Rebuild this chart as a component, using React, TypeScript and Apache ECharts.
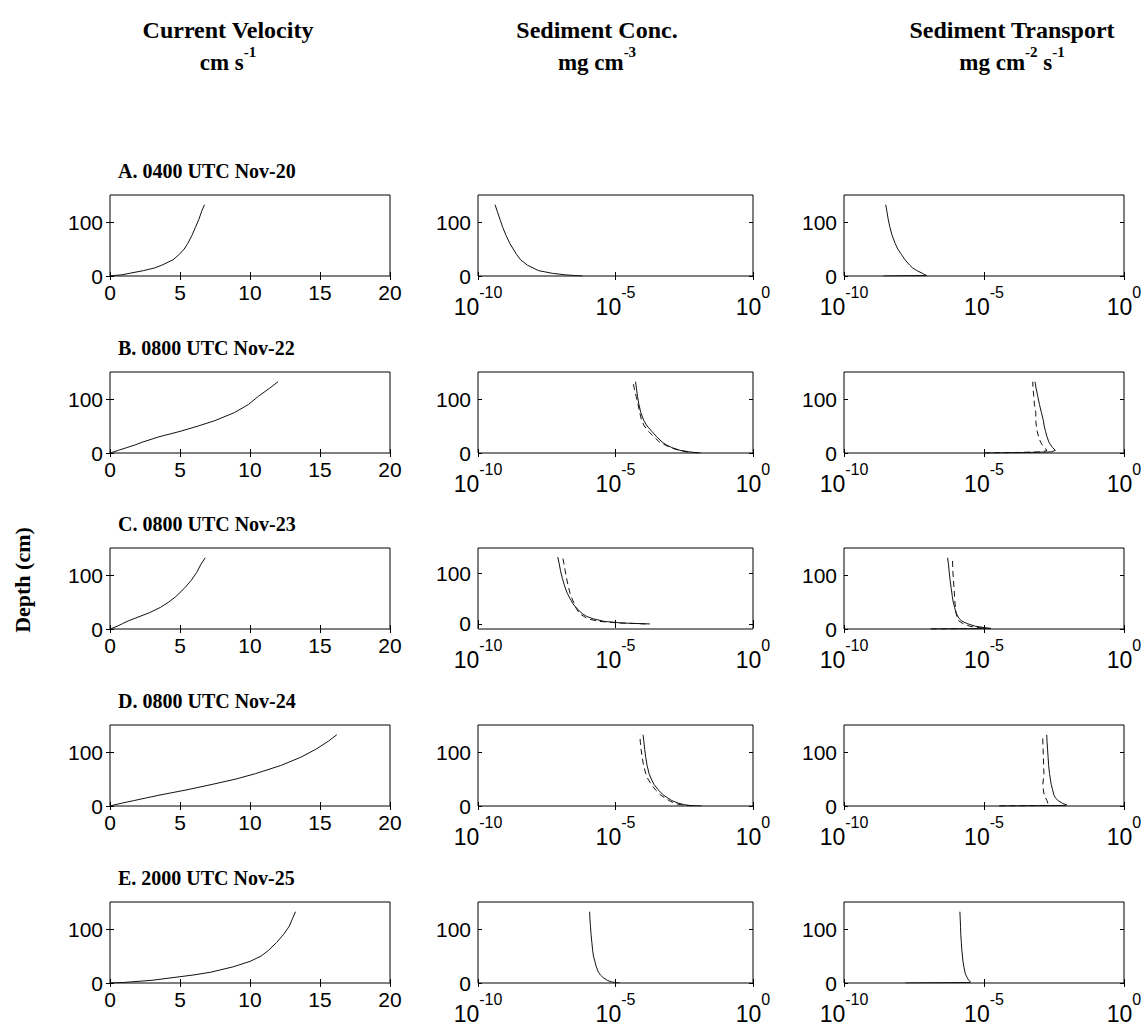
import React, { useEffect, useRef } from 'react';
import * as echarts from 'echarts';

// Depth levels (cm) shared by all profiles
const depth = [0, 1, 2, 5, 10, 15, 20, 30, 40, 50, 60, 75, 90, 105, 120, 132];

// Current velocity (cm s^-1)
const velA = [0, 0.3, 0.8, 1.4, 2.4, 3.2, 3.7, 4.5, 4.95, 5.3, 5.55, 5.85, 6.1, 6.35, 6.55, 6.75];
const velB = [0, 0.12, 0.25, 0.6, 1.2, 1.8, 2.3, 3.5, 5.0, 6.3, 7.5, 8.9, 9.9, 10.6, 11.4, 12.0];
const velC = [0, 0.1, 0.2, 0.5, 0.9, 1.3, 1.8, 2.8, 3.6, 4.2, 4.7, 5.3, 5.8, 6.2, 6.5, 6.8];
const velD = [0, 0.15, 0.3, 0.8, 1.7, 2.6, 3.5, 5.5, 7.3, 9.0, 10.4, 12.2, 13.6, 14.7, 15.6, 16.2];
const velE = [0, 1.0, 1.5, 3.0, 4.5, 6.0, 7.2, 8.8, 10.0, 10.8, 11.3, 11.9, 12.4, 12.8, 13.05, 13.25];

// Sediment concentration (mg cm^-3)
const concA = [6.3e-7, 3.16e-7, 1.58e-7, 5.0e-8, 1.58e-8, 1e-8, 6.3e-9, 3.55e-9, 2.51e-9, 1.91e-9, 1.45e-9, 1.05e-9, 7.94e-10, 6.3e-10, 5.0e-10, 4.17e-10];
const concBSolid = [1.26e-2, 7.08e-3, 5.01e-3, 2.24e-3, 1.12e-3, 7.08e-4, 5.01e-4, 3.16e-4, 2.09e-4, 1.41e-4, 1.07e-4, 8.32e-5, 7.08e-5, 6.31e-5, 5.75e-5, 5.37e-5];
const concBDashed = [1e-2, 6.31e-3, 3.98e-3, 2.0e-3, 1e-3, 6.31e-4, 3.98e-4, 2.51e-4, 1.58e-4, 1.12e-4, 8.91e-5, 7.59e-5, 6.61e-5, 5.62e-5, 4.79e-5, 4.27e-5];
const concCSolid = [1.78e-4, 5.01e-5, 1.58e-5, 3.98e-6, 1.58e-6, 8.91e-7, 6.31e-7, 3.98e-7, 2.82e-7, 2.24e-7, 1.78e-7, 1.41e-7, 1.17e-7, 1e-7, 8.91e-8, 7.94e-8];
const concCDashed = [1.26e-4, 3.98e-5, 1.26e-5, 2.51e-6, 1e-6, 7.08e-7, 5.01e-7, 3.8e-7, 3.16e-7, 2.63e-7, 2.24e-7, 1.91e-7, 1.66e-7, 1.48e-7, 1.32e-7, 1.2e-7];
const concDSolid = [1.35e-2, 5.01e-3, 3.55e-3, 2.0e-3, 1.12e-3, 7.94e-4, 5.62e-4, 3.55e-4, 2.51e-4, 2.0e-4, 1.66e-4, 1.41e-4, 1.26e-4, 1.15e-4, 1.07e-4, 1e-4];
const concDDashed = [6.31e-3, 3.98e-3, 2.51e-3, 1.41e-3, 8.91e-4, 6.31e-4, 4.47e-4, 2.82e-4, 2.0e-4, 1.51e-4, 1.26e-4, 1.05e-4, 9.33e-5, 8.51e-5, 7.94e-5, 7.76e-5];
const concE = [1.41e-5, 1e-5, 7.08e-6, 5.01e-6, 3.55e-6, 2.82e-6, 2.4e-6, 2.0e-6, 1.78e-6, 1.58e-6, 1.48e-6, 1.38e-6, 1.29e-6, 1.23e-6, 1.17e-6, 1.15e-6];

// Sediment transport (mg cm^-2 s^-1)
const transA = [2.51e-9, 8.91e-8, 7.94e-8, 6.3e-8, 3.98e-8, 2.82e-8, 2.24e-8, 1.51e-8, 1.12e-8, 8.32e-9, 6.76e-9, 5.25e-9, 4.37e-9, 3.8e-9, 3.39e-9, 3.09e-9];
const transBSolid = [1e-5, 3.16e-4, 2.51e-3, 3.55e-3, 2.82e-3, 2.4e-3, 2.09e-3, 1.78e-3, 1.58e-3, 1.41e-3, 1.32e-3, 1.12e-3, 9.55e-4, 8.32e-4, 7.24e-4, 6.61e-4];
const transBDashed = [1e-5, 1.58e-4, 1.26e-3, 1.78e-3, 1.41e-3, 1.2e-3, 1.05e-3, 8.91e-4, 7.94e-4, 7.41e-4, 7.08e-4, 7.08e-4, 6.31e-4, 6.03e-4, 5.62e-4, 5.5e-4];
const transCSolid = [1.26e-7, 1.78e-5, 1.26e-5, 5.01e-6, 2.51e-6, 1.58e-6, 1.26e-6, 1e-6, 8.91e-7, 7.94e-7, 7.41e-7, 6.76e-7, 6.17e-7, 5.75e-7, 5.37e-7, 5.01e-7];
const transCDashed = [1.26e-7, 1.26e-5, 7.94e-6, 3.16e-6, 1.78e-6, 1.26e-6, 1.12e-6, 1e-6, 9.55e-7, 9.12e-7, 8.91e-7, 8.51e-7, 8.13e-7, 7.76e-7, 7.59e-7, 7.41e-7];
const transDSolid = [3.55e-5, 7.94e-3, 8.91e-3, 6.31e-3, 4.47e-3, 3.55e-3, 3.16e-3, 2.82e-3, 2.51e-3, 2.34e-3, 2.19e-3, 2.04e-3, 1.95e-3, 1.86e-3, 1.78e-3, 1.74e-3];
const transDDashed = [3.55e-5, 1.58e-3, 1.91e-3, 1.91e-3, 1.78e-3, 1.58e-3, 1.41e-3, 1.32e-3, 1.26e-3, 1.32e-3, 1.38e-3, 1.35e-3, 1.32e-3, 1.29e-3, 1.26e-3, 1.26e-3];
const transE = [1.58e-8, 3.16e-6, 3.31e-6, 2.82e-6, 2.51e-6, 2.24e-6, 2.09e-6, 1.91e-6, 1.78e-6, 1.70e-6, 1.62e-6, 1.55e-6, 1.48e-6, 1.45e-6, 1.41e-6, 1.38e-6];

const panelTitles = ['A. 0400 UTC Nov-20', 'B. 0800 UTC Nov-22', 'C. 0800 UTC Nov-23', 'D. 0800 UTC Nov-24', 'E. 2000 UTC Nov-25'];
const velTicks = [0, 5, 10, 15, 20];
const logTicks = [1e-10, 1e-5, 1];
const depthTicks = [0, 100];

type Prof = { v: number[]; dashed?: boolean };
const rows: { vel: Prof[]; conc: Prof[]; trans: Prof[] }[] = [
  { vel: [{ v: velA }], conc: [{ v: concA }], trans: [{ v: transA }] },
  { vel: [{ v: velB }], conc: [{ v: concBSolid }, { v: concBDashed, dashed: true }], trans: [{ v: transBSolid }, { v: transBDashed, dashed: true }] },
  { vel: [{ v: velC }], conc: [{ v: concCSolid }, { v: concCDashed, dashed: true }], trans: [{ v: transCSolid }, { v: transCDashed, dashed: true }] },
  { vel: [{ v: velD }], conc: [{ v: concDSolid }, { v: concDDashed, dashed: true }], trans: [{ v: transDSolid }, { v: transDDashed, dashed: true }] },
  { vel: [{ v: velE }], conc: [{ v: concE }], trans: [{ v: transE }] },
];

const SANS = '"Liberation Sans", Arial, sans-serif';
const SERIF = '"Liberation Serif", "Times New Roman", serif';

const colLeft = [110, 478, 844];
const colWidth = [280, 275, 280];
const rowTop = [195, 372, 548, 725, 902];
const H = 81;

export default function App() {
  const ref = useRef<HTMLDivElement>(null);
  useEffect(() => {
    document.body.style.margin = '0';
    const chart = echarts.init(ref.current!, null, { renderer: 'svg' });
    const grids: any[] = [];
    const xAxes: any[] = [];
    const yAxes: any[] = [];
    const series: any[] = [];

    const tick = { inside: true, length: 4, lineStyle: { color: '#000', width: 1 } };
    const labelBase = { color: '#000', fontFamily: SANS, fontSize: 21 };

    rows.forEach((row, r) => {
      [row.vel, row.conc, row.trans].forEach((profs, c) => {
        const g = r * 3 + c;
        grids.push({
          left: colLeft[c], top: rowTop[r], width: colWidth[c], height: H,
          show: true, borderColor: '#000', borderWidth: 1, backgroundColor: '#fff',
        });
        const isLog = c > 0;
        const xBase: any = isLog
          ? { type: 'log', logBase: 10, min: 1e-10, max: 1 }
          : { type: 'value', min: 0, max: 20, interval: 5 };
        const xTick = isLog ? { ...tick, customValues: logTicks } : tick;
        xAxes.push({
          ...xBase, gridIndex: g, position: 'bottom',
          axisLine: { show: false }, splitLine: { show: false }, minorTick: { show: false },
          axisTick: xTick,
          axisLabel: isLog
            ? {
                customValues: logTicks, margin: 8,
                formatter: (v: number) => `{b|10}{s|${Math.round(Math.log10(v))}}`,
                rich: {
                  b: { ...labelBase, fontSize: 23, verticalAlign: 'bottom', lineHeight: 34 },
                  s: { ...labelBase, fontSize: 16, verticalAlign: 'top' },
                },
              }
            : { ...labelBase, margin: 6, customValues: velTicks },
        });
        xAxes.push({
          ...xBase, gridIndex: g, position: 'top',
          axisLine: { show: false }, splitLine: { show: false }, minorTick: { show: false },
          axisTick: xTick, axisLabel: { show: false },
        });
        const yMin = r === 2 && c === 1 ? -10 : 0;
        const yBase = { type: 'value', min: yMin, max: 150, gridIndex: g };
        yAxes.push({
          ...yBase, position: 'left',
          axisLine: { show: false }, splitLine: { show: false },
          axisTick: { ...tick, customValues: depthTicks },
          axisLabel: { ...labelBase, margin: 7, customValues: depthTicks },
        });
        yAxes.push({
          ...yBase, position: 'right',
          axisLine: { show: false }, splitLine: { show: false },
          axisTick: { ...tick, customValues: depthTicks },
          axisLabel: { show: false },
        });
        profs.forEach((p) => {
          series.push({
            type: 'line', xAxisIndex: 2 * g, yAxisIndex: 2 * g,
            data: depth.map((d, i) => [p.v[i], d]),
            showSymbol: false, symbol: 'none', silent: true, clip: true,
            lineStyle: { color: '#111', width: 1, type: p.dashed ? [6, 4] : 'solid' },
          });
        });
      });
    });

    const graphic: any[] = [];
    panelTitles.forEach((t, r) => {
      graphic.push({
        type: 'text', x: 118, y: rowTop[r] - 24,
        style: { text: t, fill: '#000', font: `bold 20px ${SERIF}`, align: 'left', verticalAlign: 'middle' },
      });
    });
    const headers = [
      { x: 228, t1: 'Current Velocity', t2: '{a|cm s}{s|-1}' },
      { x: 597, t1: 'Sediment Conc.', t2: '{a|mg cm}{s|-3}' },
      { x: 1012, t1: 'Sediment Transport', t2: '{a|mg cm}{s|-2}{a| s}{s|-1}' },
    ];
    const richHdr = {
      a: { fontFamily: SERIF, fontWeight: 'bold', fontSize: 23, color: '#000', verticalAlign: 'bottom', lineHeight: 30 },
      s: { fontFamily: SERIF, fontWeight: 'bold', fontSize: 15, color: '#000', verticalAlign: 'top' },
    };
    headers.forEach((h) => {
      graphic.push({
        type: 'text', x: h.x, y: 30,
        style: { text: h.t1, fill: '#000', font: `bold 24px ${SERIF}`, align: 'center', verticalAlign: 'middle' },
      });
      graphic.push({
        type: 'text', x: h.x, y: 59,
        style: { text: h.t2, fill: '#000', rich: richHdr, align: 'center', verticalAlign: 'middle' },
      });
    });
    graphic.push({
      type: 'text', x: 22, y: 580, rotation: Math.PI / 2,
      style: { text: 'Depth (cm)', fill: '#000', font: `bold 22px ${SERIF}`, align: 'center', verticalAlign: 'middle' },
    });

    chart.setOption({
      animation: false,
      backgroundColor: '#fff',
      grid: grids,
      xAxis: xAxes,
      yAxis: yAxes,
      series,
      graphic,
    });
    return () => chart.dispose();
  }, []);
  return <div ref={ref} style={{ width: 1148, height: 1028 }} />;
}
